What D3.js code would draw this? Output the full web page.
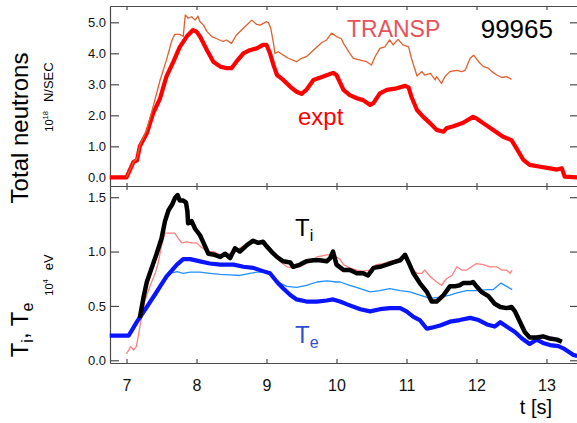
<!DOCTYPE html>
<html>
<head>
<meta charset="utf-8">
<script src="https://cdn.jsdelivr.net/npm/d3@7"></script>
<style>
    body { margin: 0; background: #fff; }
    svg { display: block; font-family: "Liberation Sans", Arial, Helvetica, sans-serif; }
    .axis path, .axis line { stroke: #4a4a4a; stroke-width: 1.2; }
    .axis text { fill: #111; }
</style>
</head>
<body>
<div id="plotSect"></div>
<script>
/* global d3 */

// Data (t in s) //

let neutExpt = [
    [6.76,0],[7.0,0],[7.10,0.5],[7.15,0.55],[7.19,1.0],[7.29,1.42],[7.38,2.06],[7.48,2.55],
    [7.57,3.25],[7.67,3.73],[7.76,4.2],[7.86,4.54],[7.95,4.75],[8.0,4.7],[8.05,4.54],[8.15,4.1],
    [8.24,3.73],[8.34,3.57],[8.43,3.52],[8.50,3.52],[8.57,3.73],[8.67,4.0],[8.76,4.1],[8.86,4.16],
    [8.95,4.27],[9.0,4.27],[9.05,4.0],[9.10,3.62],[9.15,3.3],[9.24,3.14],[9.34,2.92],[9.43,2.76],
    [9.50,2.69],[9.57,2.82],[9.67,3.14],[9.81,3.25],[9.95,3.37],[10.0,3.3],[10.10,2.82],[10.19,2.65],
    [10.29,2.55],[10.38,2.49],[10.48,2.33],[10.53,2.4],[10.62,2.71],[10.72,2.82],[10.86,2.87],
    [10.98,2.95],[11.03,2.9],[11.07,2.6],[11.15,2.17],[11.24,1.95],[11.34,1.74],[11.43,1.53],
    [11.53,1.47],[11.57,1.58],[11.67,1.65],[11.81,1.76],[11.95,1.95],[12.0,1.9],[12.10,1.74],
    [12.24,1.53],[12.38,1.31],[12.50,1.2],[12.57,0.94],[12.67,0.56],[12.76,0.4],[12.91,0.34],
    [13.05,0.29],[13.15,0.25],[13.22,0.29],[13.26,0.02],[13.44,0]
];

let neutTransp = [
    [7.0,0],[7.10,0.5],[7.15,0.6],[7.19,1.05],[7.29,1.53],[7.38,2.28],[7.48,3.14],[7.57,3.78],
    [7.65,4.43],[7.69,4.61],[7.76,4.61],[7.81,4.54],[7.84,5.24],[7.88,5.13],[7.93,5.18],[7.98,5.07],
    [8.02,5.2],[8.05,5.02],[8.10,4.91],[8.15,4.7],[8.22,4.54],[8.29,4.47],[8.38,4.38],[8.43,4.43],
    [8.50,4.32],[8.57,4.59],[8.67,4.81],[8.79,5.07],[8.86,4.93],[8.91,4.91],[9.0,5.02],[9.03,4.98],
    [9.06,4.81],[9.10,4.32],[9.12,4.0],[9.17,4.05],[9.24,3.94],[9.31,3.84],[9.43,3.73],[9.50,3.84],
    [9.57,3.89],[9.67,4.1],[9.79,4.35],[9.86,4.43],[9.93,4.65],[10.0,4.54],[10.07,4.47],[10.10,4.32],
    [10.19,4.0],[10.24,3.84],[10.34,3.78],[10.43,3.73],[10.50,3.62],[10.55,3.89],[10.62,4.16],
    [10.69,4.21],[10.76,4.43],[10.81,4.27],[10.88,4.45],[10.95,4.27],[11.03,4.21],[11.07,3.84],
    [11.15,3.27],[11.22,3.41],[11.26,3.3],[11.34,3.35],[11.41,3.14],[11.43,3.25],[11.50,3.03],
    [11.55,3.25],[11.62,3.41],[11.72,3.45],[11.79,3.41],[11.84,3.46],[11.91,3.84],[11.96,3.94],
    [12.03,3.73],[12.10,3.57],[12.17,3.52],[12.22,3.41],[12.29,3.3],[12.36,3.22],[12.43,3.25],
    [12.50,3.16]
];

let tiExpt = [
    [7.19,0.39],[7.24,0.57],[7.29,0.72],[7.36,0.85],[7.43,0.98],[7.50,1.12],[7.55,1.28],[7.60,1.38],
    [7.65,1.43],[7.69,1.49],[7.73,1.52],[7.76,1.47],[7.81,1.47],[7.85,1.45],[7.87,1.37],[7.88,1.26],
    [7.93,1.28],[7.98,1.21],[8.05,1.15],[8.10,1.08],[8.17,0.98],[8.26,0.97],[8.34,0.95],[8.41,0.98],
    [8.48,0.94],[8.55,1.03],[8.62,1.0],[8.72,1.06],[8.81,1.1],[8.88,1.08],[8.95,1.09],[9.0,1.05],
    [9.07,1.0],[9.15,0.95],[9.24,0.91],[9.34,0.9],[9.38,0.86],[9.48,0.88],[9.57,0.91],[9.67,0.92],
    [9.76,0.92],[9.86,0.91],[9.91,0.94],[9.95,1.0],[10.0,0.88],[10.10,0.83],[10.19,0.83],[10.29,0.8],
    [10.38,0.8],[10.45,0.78],[10.53,0.85],[10.62,0.86],[10.72,0.88],[10.81,0.9],[10.91,0.92],
    [10.98,0.97],[11.03,0.9],[11.10,0.8],[11.19,0.71],[11.29,0.63],[11.36,0.54],[11.43,0.54],
    [11.53,0.6],[11.62,0.68],[11.69,0.68],[11.76,0.69],[11.81,0.71],[11.91,0.71],[11.95,0.72],
    [12.0,0.68],[12.07,0.63],[12.17,0.59],[12.26,0.52],[12.34,0.49],[12.43,0.48],[12.50,0.49],
    [12.55,0.45],[12.62,0.355],[12.69,0.26],[12.76,0.21],[12.86,0.21],[12.95,0.22],[13.05,0.2],
    [13.15,0.19],[13.22,0.17]
];

let tiTransp = [
    [7.0,0.06],[7.06,0.125],[7.10,0.095],[7.14,0.125],[7.17,0.23],[7.22,0.42],[7.26,0.54],[7.34,0.69],
    [7.41,0.8],[7.45,0.89],[7.50,1.05],[7.55,1.17],[7.60,1.17],[7.65,1.17],[7.69,1.17],[7.74,1.12],
    [7.79,1.08],[7.86,1.09],[7.93,1.08],[8.0,1.08],[8.05,1.05],[8.15,1.0],[8.24,1.0],[8.34,0.97],
    [8.43,0.97],[8.53,1.0],[8.67,1.05],[8.81,1.08],[8.91,1.08],[9.0,1.06],[9.10,0.98],[9.19,0.91],
    [9.29,0.86],[9.38,0.85],[9.48,0.86],[9.57,0.89],[9.72,0.95],[9.86,0.97],[9.95,0.97],[10.0,0.95],
    [10.05,0.93],[10.10,0.88],[10.19,0.85],[10.29,0.83],[10.38,0.82],[10.48,0.83],[10.57,0.88],
    [10.67,0.89],[10.76,0.91],[10.86,0.92],[10.93,0.95],[11.0,0.94],[11.07,0.85],[11.15,0.8],
    [11.22,0.8],[11.26,0.83],[11.34,0.77],[11.43,0.72],[11.50,0.69],[11.57,0.75],[11.65,0.78],
    [11.72,0.86],[11.79,0.83],[11.86,0.83],[11.93,0.86],[12.0,0.89],[12.10,0.88],[12.19,0.86],
    [12.29,0.86],[12.36,0.83],[12.43,0.83],[12.48,0.8],[12.51,0.83]
];

let teExpt = [
    [6.76,0.226],[7.03,0.226],[7.15,0.355],[7.29,0.49],[7.43,0.63],[7.57,0.77],[7.72,0.88],
    [7.81,0.93],[7.91,0.93],[8.05,0.91],[8.19,0.89],[8.34,0.88],[8.53,0.88],[8.67,0.86],[8.81,0.85],
    [8.95,0.82],[9.05,0.8],[9.15,0.72],[9.24,0.66],[9.34,0.6],[9.43,0.56],[9.57,0.54],[9.72,0.54],
    [9.86,0.55],[9.95,0.56],[10.05,0.54],[10.17,0.51],[10.34,0.47],[10.48,0.45],[10.62,0.47],
    [10.76,0.48],[10.91,0.48],[11.0,0.45],[11.10,0.4],[11.19,0.37],[11.29,0.29],[11.36,0.3],
    [11.48,0.32],[11.62,0.355],[11.76,0.37],[11.91,0.39],[12.03,0.37],[12.15,0.33],[12.26,0.31],
    [12.34,0.35],[12.43,0.31],[12.55,0.26],[12.65,0.2],[12.76,0.15],[12.86,0.19],[12.95,0.16],
    [13.05,0.14],[13.17,0.13],[13.24,0.11],[13.31,0.08],[13.38,0.05],[13.44,0.04]
];

let teTransp = [
    [7.29,0.49],[7.43,0.6],[7.53,0.72],[7.62,0.8],[7.72,0.815],[7.81,0.8],[7.91,0.81],[8.05,0.81],
    [8.19,0.8],[8.34,0.79],[8.48,0.785],[8.62,0.78],[8.76,0.8],[8.86,0.81],[9.0,0.81],[9.10,0.77],
    [9.19,0.71],[9.29,0.68],[9.43,0.67],[9.57,0.69],[9.72,0.72],[9.86,0.73],[10.0,0.72],[10.05,0.72],
    [10.19,0.69],[10.34,0.66],[10.48,0.63],[10.62,0.64],[10.76,0.66],[10.91,0.64],[11.05,0.63],
    [11.19,0.6],[11.34,0.57],[11.48,0.58],[11.62,0.6],[11.72,0.62],[11.86,0.64],[12.0,0.64],
    [12.15,0.65],[12.24,0.65],[12.35,0.71],[12.43,0.68],[12.51,0.65]
];

let xTicks = [7, 8, 9, 10, 11, 12, 13];
let topTicks = [0, 1, 2, 3, 4, 5];
let botTicks = [0, 0.5, 1.0, 1.5];

// Chart setup //

let SVGwidth = 577,
SVGheight = 423,
left = 110, right = 579,
topY0 = 6, midY = 186, botY1 = 363;

let svg = d3.select("#plotSect").append("svg")
    .attr("width", SVGwidth)
    .attr("height", SVGheight);

let xScale = d3.scaleLinear().domain([6.764, 13.436]).range([left, 577]);
let yTop = d3.scaleLinear().domain([-0.28, 5.526]).range([midY, topY0]);
let yBot = d3.scaleLinear().domain([-0.025, 1.603]).range([botY1, midY]);

let fmt = d3.format(".1f");

// top panel axes
svg.append("g").attr("class", "axis")
    .attr("transform", "translate(" + left + ",0)")
    .call(d3.axisLeft(yTop).tickValues(topTicks).tickFormat(fmt).tickSizeInner(-9).tickSizeOuter(0).tickPadding(4))
    .call(g => g.selectAll("text").attr("font-size", 13).attr("font-family", "inherit"));
svg.append("g").attr("class", "axis")
    .attr("transform", "translate(" + right + ",0)")
    .call(d3.axisRight(yTop).tickValues(topTicks).tickFormat("").tickSizeInner(-9).tickSizeOuter(0));
svg.append("g").attr("class", "axis")
    .attr("transform", "translate(0," + topY0 + ")")
    .call(d3.axisTop(xScale).tickValues(xTicks).tickFormat("").tickSizeInner(-4).tickSizeOuter(0));
svg.append("g").attr("class", "axis")
    .attr("transform", "translate(0," + midY + ")")
    .call(d3.axisBottom(xScale).tickValues(xTicks).tickFormat("").tickSizeInner(-3).tickSizeOuter(0));

// bottom panel axes
svg.append("g").attr("class", "axis")
    .attr("transform", "translate(" + left + ",0)")
    .call(d3.axisLeft(yBot).tickValues(botTicks).tickFormat(fmt).tickSizeInner(-9).tickSizeOuter(0).tickPadding(4))
    .call(g => g.selectAll("text").attr("font-size", 13).attr("font-family", "inherit"));
svg.append("g").attr("class", "axis")
    .attr("transform", "translate(" + right + ",0)")
    .call(d3.axisRight(yBot).tickValues(botTicks).tickFormat("").tickSizeInner(-9).tickSizeOuter(0));
svg.append("g").attr("class", "axis")
    .attr("transform", "translate(0," + midY + ")")
    .call(d3.axisTop(xScale).tickValues(xTicks).tickFormat("").tickSizeInner(-4).tickSizeOuter(0));
svg.append("g").attr("class", "axis")
    .attr("transform", "translate(0," + botY1 + ")")
    .call(d3.axisBottom(xScale).tickValues(xTicks).tickFormat(d3.format("d")).tickSizeInner(-4).tickSizeOuter(0).tickPadding(17))
    .call(g => g.selectAll("text").attr("font-size", 16).attr("font-family", "inherit"));

// lines
let lineTop = d3.line().x(d => xScale(d[0])).y(d => yTop(d[1]));
let lineBot = d3.line().x(d => xScale(d[0])).y(d => yBot(d[1]));

function drawLine(data, gen, color, w) {
    svg.append("path")
        .datum(data)
        .attr("fill", "none")
        .attr("stroke", color)
        .attr("stroke-width", w)
        .attr("stroke-linejoin", "round")
        .attr("d", gen);
}

drawLine(neutExpt, lineTop, "#ff0000", 4.2);
drawLine(neutTransp, lineTop, "#e0602e", 1.3);

drawLine(tiTransp, lineBot, "#ff8080", 1.3);
drawLine(teTransp, lineBot, "#2090ff", 1.3);
drawLine(teExpt, lineBot, "#0a14ff", 4.2);
drawLine(tiExpt, lineBot, "#000000", 4.5);

// labels
svg.append("text")
    .attr("transform", "translate(28,128) rotate(-90)")
    .attr("text-anchor", "middle")
    .attr("font-size", 24)
    .text("Total neutrons");

let u1 = svg.append("text")
    .attr("transform", "translate(53,97) rotate(-90)")
    .attr("text-anchor", "middle");
u1.append("tspan").attr("font-size", 11).text("10");
u1.append("tspan").attr("font-size", 7.5).attr("dy", -5).text("18");
u1.append("tspan").attr("font-size", 13).attr("dy", 5).attr("dx", 9).text("N/SEC");

let t1 = svg.append("text")
    .attr("transform", "translate(28,330) rotate(-90)")
    .attr("text-anchor", "middle")
    .attr("font-size", 24);
t1.append("tspan").text("T");
t1.append("tspan").attr("font-size", 16).attr("dy", 5).text("i");
t1.append("tspan").attr("dy", -5).text(", T");
t1.append("tspan").attr("font-size", 16).attr("dy", 5).text("e");

let u2 = svg.append("text")
    .attr("transform", "translate(53,275) rotate(-90)")
    .attr("text-anchor", "middle");
u2.append("tspan").attr("font-size", 11).text("10");
u2.append("tspan").attr("font-size", 7.5).attr("dy", -5).text("4");
u2.append("tspan").attr("font-size", 13).attr("dy", 5).attr("dx", 9).text("eV");

svg.append("text")
    .attr("x", 552).attr("y", 414)
    .attr("text-anchor", "end")
    .attr("font-size", 20)
    .text("t [s]");

svg.append("text")
    .attr("x", 347).attr("y", 37)
    .attr("font-size", 23)
    .attr("fill", "#e8525c")
    .text("TRANSP");

svg.append("text")
    .attr("x", 553).attr("y", 38)
    .attr("text-anchor", "end")
    .attr("font-size", 26)
    .text("99965");

svg.append("text")
    .attr("x", 298).attr("y", 125)
    .attr("font-size", 24)
    .attr("fill", "#ff0000")
    .text("expt");

let ti = svg.append("text")
    .attr("x", 295).attr("y", 236)
    .attr("font-size", 24);
ti.append("tspan").text("T");
ti.append("tspan").attr("font-size", 16).attr("dy", 5).text("i");

let te = svg.append("text")
    .attr("x", 295).attr("y", 343)
    .attr("font-size", 24)
    .attr("fill", "#3050d0");
te.append("tspan").text("T");
te.append("tspan").attr("font-size", 16).attr("dy", 5).text("e");
</script>
</body>
</html>
